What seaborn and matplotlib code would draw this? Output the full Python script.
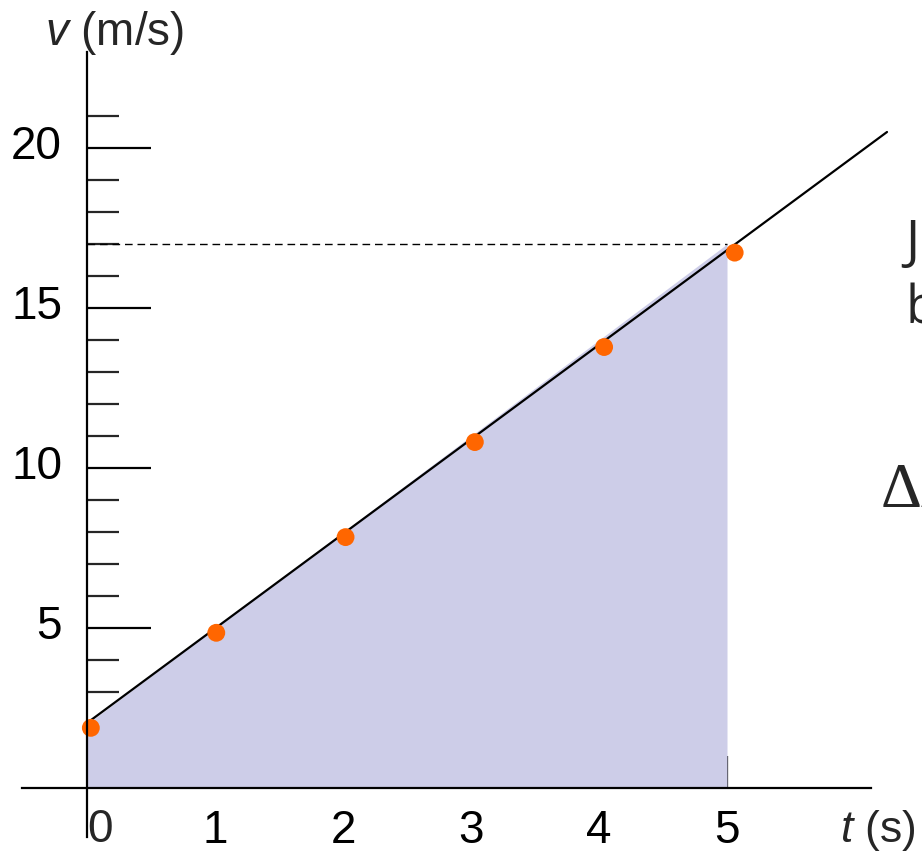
import matplotlib
matplotlib.use("Agg")
import matplotlib.pyplot as plt
import matplotlib.transforms as mtransforms
import seaborn as sns
import numpy as np
import pandas as pd

# ---- data ----
t_points = [0.03, 1.01, 2.02, 3.03, 4.04, 5.06]
v_points = [1.88, 4.85, 7.84, 10.81, 13.78, 16.73]
line_t = [0.0, 6.25]
line_v = [2.03, 20.5]
area_t = [0.0, 5.0]
area_v = [2.0, 17.0]
dash_v = 17.0
x_ticks = [1, 2, 3, 4, 5]
x_ticklabels = ["1", "2", "3", "4", "5"]
y_ticks = [5, 10, 15, 20]
y_ticklabels = ["5", "10", "15", "20"]
y_minor = [i for i in range(1, 22) if i % 5 != 0]

sns.set_theme(style="white")
plt.rcParams["font.family"] = ["Liberation Sans", "DejaVu Sans"]
plt.rcParams["mathtext.fontset"] = "custom"
plt.rcParams["mathtext.it"] = "Liberation Sans:italic"
plt.rcParams["mathtext.rm"] = "Liberation Sans"

fig = plt.figure(figsize=(9.22, 8.52), dpi=100)
ax = fig.add_axes([0, 0, 1, 1])
ax.set_xlim(-87 / 128, 835 / 128)
ax.set_ylim(-2.0, 788 / 32)
ax.patch.set_alpha(0)

# shaded area
ax.fill_between(area_t, area_v, 0, color="#CDCDE8", lw=0, zorder=1)
# dashed line
ax.plot([0, area_t[-1]], [dash_v, dash_v], color="black", lw=1.0,
        ls=(0, (5.5, 3.5)), zorder=2)
# fit line
df_line = pd.DataFrame({"t": line_t, "v": line_v})
sns.lineplot(data=df_line, x="t", y="v", ax=ax, color="black", lw=1.6, zorder=3)
# points
df_pts = pd.DataFrame({"t": t_points, "v": v_points})
sns.scatterplot(data=df_pts, x="t", y="v", ax=ax, color="#FF6600", s=165,
                edgecolor="none", zorder=4)

# axes
for s in ["top", "right"]:
    ax.spines[s].set_visible(False)
for s in ["left", "bottom"]:
    ax.spines[s].set_position(("data", 0))
    ax.spines[s].set_color("black")
    ax.spines[s].set_linewidth(1.6)
    ax.spines[s].set_zorder(5)
ax.spines["left"].set_bounds(-1.53, 23.0)
ax.spines["bottom"].set_bounds(-0.51, 6.125)

ax.set_xticks(x_ticks)
ax.set_xticklabels(x_ticklabels)
ax.set_yticks(y_ticks)
ax.set_yticklabels(y_ticklabels)
ax.set_yticks(y_minor, minor=True)
ax.tick_params(axis="x", direction="in", length=23, width=1.6, pad=15,
               labelsize=33, colors="black", bottom=True)
ax.tick_params(axis="y", which="major", direction="in", length=46, width=1.6,
               pad=18, labelsize=33, colors="black", left=True)
ax.tick_params(axis="y", which="minor", direction="in", length=23, width=1.6,
               left=True)
ax.set_xlabel("")
ax.set_ylabel("")
ax.grid(False)

# nudge y tick labels up a little
off = mtransforms.ScaledTranslation(0, 4.5 / 72, fig.dpi_scale_trans)
for lab in ax.get_yticklabels():
    lab.set_transform(lab.get_transform() + off)

# labels
ax.text(0.10, -0.62, "0", fontsize=33, ha="center", va="top")
ax.text(-0.33, 23.22, "$v$ (m/s)", fontsize=33, ha="left", va="baseline")
ax.text(5.88, -1.69, "$t$ (s)", fontsize=32, ha="left", va="baseline")

# clipped text at right edge (as in the reference)
ax.text((905 - 87) / 128, (788 - 258) / 32, "J", fontsize=38,
        family=["Open Sans", "DejaVu Sans"], ha="left", va="baseline", clip_on=False)
ax.text((905 - 87) / 128, (788 - 323) / 32, "b", fontsize=38,
        family=["Open Sans", "DejaVu Sans"], ha="left", va="baseline", clip_on=False)
ax.text((881 - 87) / 128, (788 - 507) / 32, "Δx", fontsize=46,
        family=["Liberation Serif", "DejaVu Serif"], ha="left", va="baseline", clip_on=False)

fig.savefig("out.png", dpi=100)
